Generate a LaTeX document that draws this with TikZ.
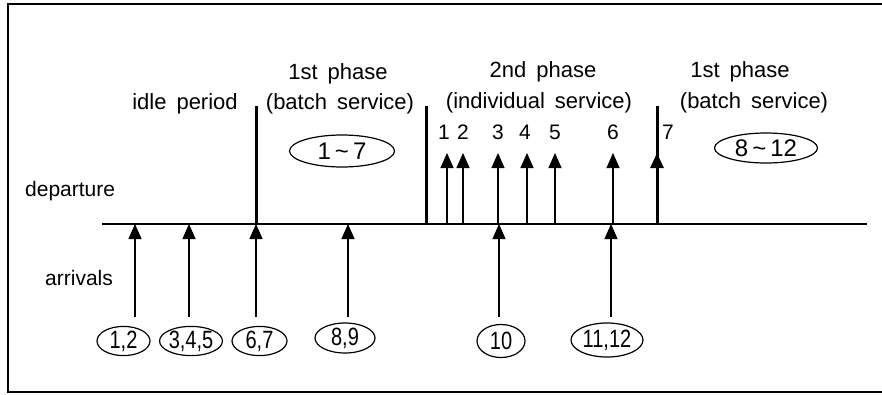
\documentclass[tikz,border=0pt]{standalone}
\usepackage{fontspec}
\setmainfont{Liberation Sans}
\newfontfamily\lblfont[FakeStretch=0.8]{Liberation Sans}
\usetikzlibrary{shapes.geometric,arrows.meta}

% caption font with wide word gaps
\newcommand\capfont{\fontsize{22}{26}\selectfont\spaceskip=10pt\relax}

\tikzset{
  txt/.style={font=\capfont, inner sep=0pt, anchor=base},
  rowcap/.style={font=\fontsize{21}{24}\selectfont, inner sep=0pt, anchor=base west},
  tag/.style={draw, ellipse, line width=1.2pt, inner sep=0pt,
              font=\lblfont\fontsize{25}{28}\selectfont},
  batchtag/.style={draw, ellipse, line width=1.2pt, inner sep=0pt,
              font=\fontsize{24}{28}\selectfont},
  num/.style={font=\fontsize{21}{24}\selectfont, inner sep=0pt, anchor=base},
  arr/.style={line width=1.1pt, -{Triangle[width=13pt,length=15pt]}},
  thickarr/.style={line width=3pt, -{Triangle[width=13pt,length=15pt]}},
  bar/.style={line width=3pt},
  axis/.style={line width=2.6pt},
}

\begin{document}
\begin{tikzpicture}[x=1pt,y=-1pt]
\useasboundingbox (0,0) rectangle (882,394);

% frame, open on the right
\draw[line width=2.5pt] (882,4) -- (8,4) -- (8,392) -- (882,392);

% time axis
\coordinate (axL) at (102,224);
\coordinate (axR) at (867,224);
\draw[axis] (axL) -- (axR);

% row captions
\node[rowcap] (dep) at (25,196) {departure};
\node[rowcap] (arrv) at (45,285) {arrivals};

% phase captions
\node[txt] (idle) at (185,109) {idle period};
\node[txt] (p1a) at (338,79) {1st phase};
\node[txt] (p1b) at (340,109) {(batch service)};
\node[txt] (p2a) at (543,77) {2nd phase};
\node[txt] (p2b) at (539,108) {(individual service)};
\node[txt] (p3a) at (740,77) {1st phase};
\node[txt] (p3b) at (754,108) {(batch service)};

% batch tags
\node[batchtag, minimum width=105pt, minimum height=32pt] (b17) at (342,151) {1\,\textasciitilde\,7};
\node[batchtag, minimum width=103pt, minimum height=30pt] (b812) at (766,148) {8\,\textasciitilde\,12};

% phase boundaries
\coordinate (s1) at (256,224); \coordinate (s1t) at (256,106);
\coordinate (s2) at (426,224); \coordinate (s2t) at (426,106);
\coordinate (s3) at (657,224); \coordinate (s3t) at (657,106);
\coordinate (s3h) at (657,153);
\draw[bar] (s1) -- (s1t);
\draw[bar] (s2) -- (s2t);
\draw[bar] (s3) -- (s3t);
\draw[thickarr] (s3) -- (s3h);

% individual departures
\foreach \k/\x/\lx in {1/447/444, 2/463/463, 3/498/498, 4/527/525, 5/555/555, 6/613/613} {
  \coordinate (d\k) at (\x,224);
  \coordinate (dt\k) at (\x,153);
  \draw[arr] (d\k) -- (dt\k);
  \node[num] (n\k) at (\lx,139) {\k};
}
\node[num] (n7) at (668,139) {7};

% arrival groups
\node[tag, minimum width=53pt, minimum height=28pt] (g1) at (123.5,341) {1,2};
\node[tag, minimum width=62pt, minimum height=28pt] (g2) at (191,341) {3,4,5};
\node[tag, minimum width=55pt, minimum height=28pt] (g3) at (259.5,341) {6,7};
\node[tag, minimum width=60pt, minimum height=30pt] (g4) at (345,338) {8,9};
\node[tag, minimum width=48pt, minimum height=33pt] (g5) at (501,341) {10};
\node[tag, minimum width=72pt, minimum height=34pt] (g6) at (607,340) {11,12};

% arrival arrows
\foreach \k/\x in {1/135, 2/189, 3/256, 4/348, 5/499, 6/611} {
  \coordinate (ab\k) at (\x,317);
  \coordinate (at\k) at (\x,224);
  \draw[arr] (ab\k) -- (at\k);
}
\end{tikzpicture}
\end{document}
